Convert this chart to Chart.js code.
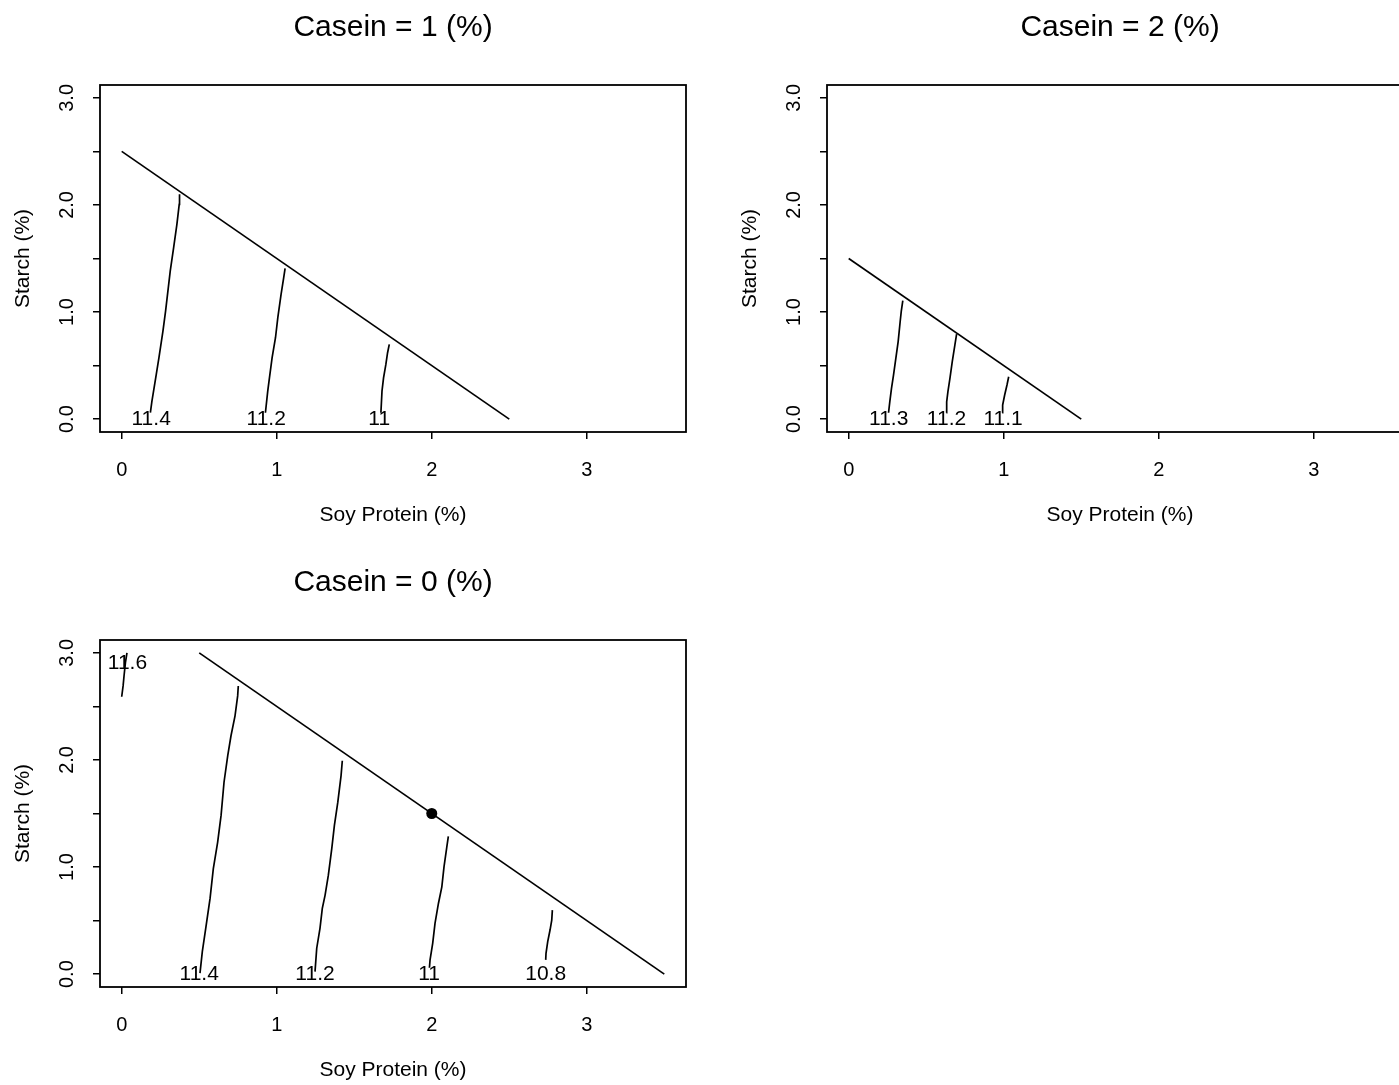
<!DOCTYPE html>
<html>
<head>
<meta charset="utf-8">
<script src="https://cdn.jsdelivr.net/npm/chart.js@4.4.1/dist/chart.umd.min.js"></script>
<style>
html,body{margin:0;padding:0;background:#fff;overflow:hidden;width:1399px;height:1085px;position:relative}
canvas{position:absolute}
</style>
</head>
<body>
<canvas id="p1" width="700" height="550" style="left:0px;top:0px"></canvas>
<canvas id="p2" width="700" height="550" style="left:727px;top:0px"></canvas>
<canvas id="p3" width="700" height="550" style="left:0px;top:555px"></canvas>
<script>
// ---- axis ticks ----
const xTickValues = [0, 1, 2, 3];
const xTickLabels = ['0', '1', '2', '3'];
const yTickValues = [0, 0.5, 1, 1.5, 2, 2.5, 3];
const yTickLabels = ['0.0', '', '1.0', '', '2.0', '', '3.0'];
const xRange = [-0.14, 3.64];
const yRange = [-0.12, 3.12];

// ---- panel titles ----
const panelTitles = ['Casein = 1 (%)', 'Casein = 2 (%)', 'Casein = 0 (%)'];

// ---- Casein = 1 ----
const p1Constraint = [[0, 2.5], [2.5, 0]];
const p1C114 = [[0.185,0.06],[0.195,0.168],[0.223,0.418],[0.240,0.573],[0.266,0.822],[0.283,1.009],[0.313,1.383],[0.335,1.601],[0.356,1.819],[0.371,2.006],[0.373,2.10]];
const p1C112 = [[0.927,0.06],[0.942,0.262],[0.953,0.386],[0.970,0.573],[0.992,0.760],[1.007,0.947],[1.028,1.165],[1.045,1.321],[1.054,1.408]];
const p1C110 = [[1.672,0.06],[1.679,0.262],[1.689,0.386],[1.704,0.511],[1.715,0.620],[1.726,0.698]];
const p1Labels = [['11.4',0.19,0],['11.2',0.932,0],['11',1.661,0]];

// ---- Casein = 2 ----
const p2Constraint = [[0, 1.5], [1.5, 0]];
const p2C113 = [[0.257,0.06],[0.265,0.162],[0.276,0.287],[0.289,0.412],[0.304,0.568],[0.319,0.724],[0.332,0.912],[0.339,1.006],[0.349,1.106]];
const p2C112 = [[0.630,0.06],[0.632,0.162],[0.640,0.256],[0.653,0.381],[0.668,0.537],[0.685,0.693],[0.696,0.793]];
const p2C111 = [[0.990,0.06],[0.993,0.131],[1.006,0.225],[1.021,0.319],[1.032,0.396]];
const p2Labels = [['11.3',0.258,0],['11.2',0.631,0],['11.1',0.996,0]];

// ---- Casein = 0 ----
const p3Constraint = [[0.5, 3.0], [3.5, 0]];
const p3C116 = [[0.0,2.59],[0.009,2.691],[0.015,2.784],[0.024,2.908],[0.034,3.0]];
const p3C114 = [[0.505,0.01],[0.520,0.210],[0.542,0.428],[0.570,0.707],[0.591,0.986],[0.619,1.233],[0.641,1.482],[0.660,1.792],[0.684,2.040],[0.705,2.226],[0.731,2.412],[0.748,2.598],[0.752,2.691]];
const p3C112 = [[1.247,0.024],[1.258,0.242],[1.279,0.428],[1.294,0.614],[1.312,0.738],[1.333,0.924],[1.355,1.172],[1.372,1.389],[1.394,1.606],[1.415,1.854],[1.423,1.993]];
const p3C110 = [[1.985,0.06],[1.989,0.133],[2.006,0.288],[2.021,0.474],[2.043,0.660],[2.065,0.815],[2.079,1.001],[2.097,1.187],[2.107,1.287]];
const p3C108 = [[2.735,0.133],[2.737,0.195],[2.748,0.303],[2.763,0.412],[2.774,0.505],[2.778,0.598]];
const p3Optimum = [[2, 1.5]];
const p3Labels = [['11.6',0.037,2.9],['11.4',0.5,0],['11.2',1.247,0],['11',1.983,0],['10.8',2.735,0]];

const FONT = '"Liberation Sans", Arial, Helvetica, sans-serif';
Chart.defaults.font.family = FONT;
Chart.defaults.color = '#000';

const framePlugin = {
  id: 'frame',
  afterDatasetsDraw(chart, args, opts) {
    const {ctx, chartArea: a, scales: {x, y}} = chart;
    ctx.save();
    ctx.strokeStyle = '#000';
    ctx.lineWidth = 1.8;
    ctx.strokeRect(a.left, a.top, a.right - a.left, a.bottom - a.top);
    ctx.fillStyle = '#000';
    ctx.font = '21px ' + FONT;
    ctx.textAlign = 'center';
    ctx.textBaseline = 'middle';
    (opts.labels || []).forEach(l => {
      ctx.fillText(l[0], x.getPixelForValue(l[1]), y.getPixelForValue(l[2]));
    });
    ctx.restore();
  }
};

function toXY(pts) { return pts.map(p => ({x: p[0], y: p[1]})); }

function makeChart(id, title, lines, points, labels) {
  const datasets = lines.map(pts => ({
    data: toXY(pts), showLine: true, borderColor: '#000', borderWidth: 1.7,
    pointRadius: 0, pointHoverRadius: 0, fill: false, tension: 0
  }));
  if (points.length) {
    datasets.push({
      data: toXY(points), showLine: false, pointRadius: 5.5, pointHoverRadius: 5.5,
      pointBackgroundColor: '#000', pointBorderColor: '#000', pointBorderWidth: 0
    });
  }
  const gridOpts = {display: true, drawOnChartArea: false, drawTicks: true, tickLength: 7, color: '#000', lineWidth: 1.5};
  return new Chart(document.getElementById(id), {
    type: 'scatter',
    data: {datasets},
    options: {
      responsive: false,
      animation: false,
      events: [],
      layout: {padding: {left: 0, right: 14, top: 0, bottom: 0}},
      plugins: {
        legend: {display: false},
        tooltip: {enabled: false},
        title: {
          display: true, text: title, fullSize: false, color: '#000',
          font: {size: 30, weight: 'normal', family: FONT},
          padding: {top: 10, bottom: 39}
        },
        frame: {labels}
      },
      scales: {
        x: {
          type: 'linear', position: 'bottom', min: xRange[0], max: xRange[1],
          afterBuildTicks: s => { s.ticks = xTickValues.map(v => ({value: v})); },
          afterFit: s => { s.height = 118; },
          ticks: {callback: (v, i) => xTickLabels[i], font: {size: 20}, color: '#000', padding: 19, autoSkip: false, maxRotation: 0},
          grid: gridOpts,
          border: {display: false},
          title: {display: true, text: 'Soy Protein (%)', color: '#000', font: {size: 21}, padding: {top: 0, bottom: 22.4}}
        },
        y: {
          type: 'linear', position: 'left', min: yRange[0], max: yRange[1],
          afterBuildTicks: s => { s.ticks = yTickValues.map(v => ({value: v})); },
          afterFit: s => { s.width = 100; },
          ticks: {callback: (v, i) => yTickLabels[i], font: {size: 20}, color: '#000', padding: 11.6, autoSkip: false, minRotation: 90, maxRotation: 90, crossAlign: 'center'},
          grid: gridOpts,
          border: {display: false},
          title: {display: true, text: 'Starch (%)', color: '#000', font: {size: 21}, padding: {top: 10.4, bottom: 0}}
        }
      }
    },
    plugins: [framePlugin]
  });
}

makeChart('p1', panelTitles[0], [p1Constraint, p1C114, p1C112, p1C110], [], p1Labels);
makeChart('p2', panelTitles[1], [p2Constraint, p2C113, p2C112, p2C111], [], p2Labels);
makeChart('p3', panelTitles[2], [p3Constraint, p3C116, p3C114, p3C112, p3C110, p3C108], p3Optimum, p3Labels);
</script>
</body>
</html>
